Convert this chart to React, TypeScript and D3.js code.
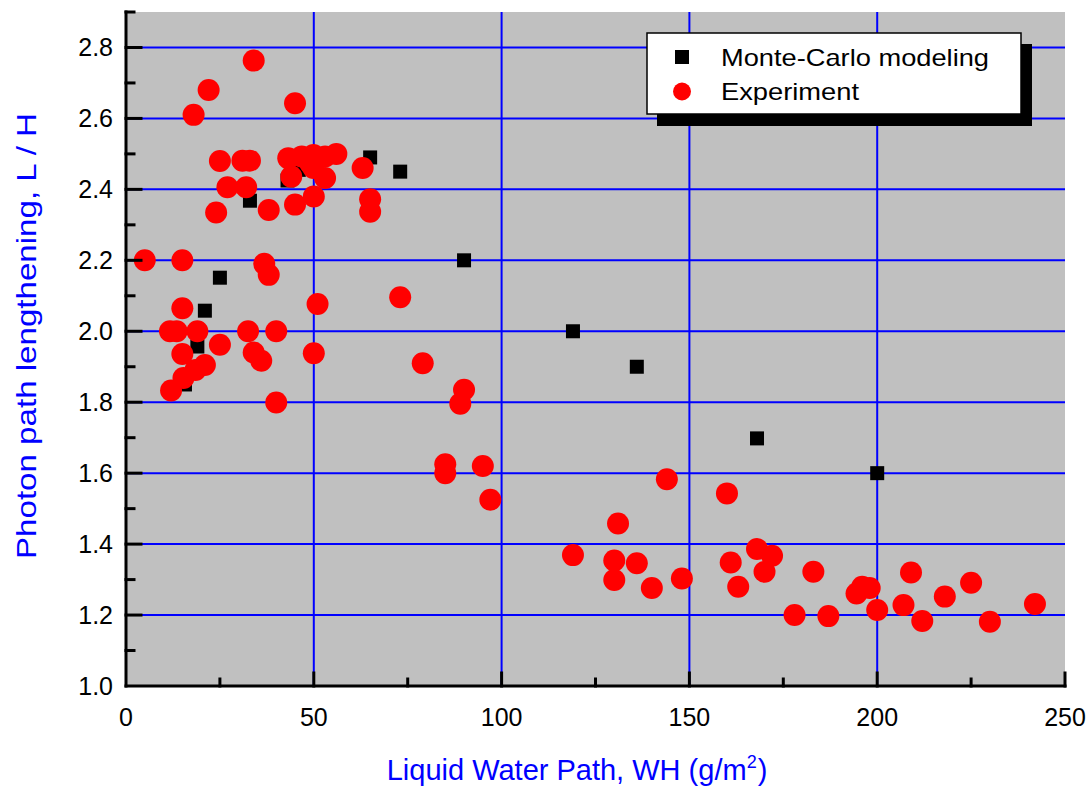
import { useEffect, useRef } from "react";
import * as d3 from "d3";

// Monte-Carlo modeling (black squares)
const mcX = [15.7, 19, 21, 25, 33, 43, 46, 65, 73, 90, 119, 136, 168, 200];
const mcY = [1.85, 1.957, 2.058, 2.151, 2.368, 2.425, 2.455, 2.49, 2.45, 2.2, 2.0, 1.9, 1.698, 1.6];

// Experiment (red circles)
const expX = [
  5, 15, 18, 22, 34, 45, 25, 31, 33, 27, 32, 24, 38, 45, 50,
  43.2, 46.8, 49.9, 53, 56, 44, 49.9, 53, 49, 63, 65, 65,
  36.8, 38, 51, 73, 15, 11.7, 13.5, 19, 25, 32.5, 40, 34, 36, 15, 50, 79,
  21, 18.5, 15.3, 12, 40, 90, 89, 85, 85, 95, 97,
  144, 160, 131, 119, 130, 130, 136, 140, 148,
  168, 172, 161, 170, 163, 183, 178, 187, 194.5, 196, 198, 200,
  207, 209, 212, 218, 225, 230, 242,
];
const expY = [
  2.2, 2.2, 2.61, 2.68, 2.763, 2.643, 2.48, 2.481, 2.481, 2.406, 2.406, 2.335, 2.342, 2.357, 2.38,
  2.488, 2.493, 2.497, 2.493, 2.5, 2.436, 2.46, 2.432, 2.474, 2.46, 2.372, 2.337,
  2.19, 2.159, 2.077, 2.096, 2.065, 2.0, 2.0, 2.0, 1.962, 2.0, 2.0, 1.94, 1.917, 1.936, 1.938, 1.91,
  1.905, 1.891, 1.868, 1.833, 1.799, 1.835, 1.796, 1.625, 1.6, 1.62, 1.525,
  1.583, 1.543, 1.458, 1.369, 1.354, 1.299, 1.346, 1.276, 1.303,
  1.386, 1.367, 1.348, 1.322, 1.28, 1.322, 1.2, 1.197, 1.261, 1.28, 1.276, 1.214,
  1.228, 1.32, 1.183, 1.252, 1.291, 1.181, 1.231,
];

const xMajor = [0, 50, 100, 150, 200, 250];
const yMajor = [1.0, 1.2, 1.4, 1.6, 1.8, 2.0, 2.2, 2.4, 2.6, 2.8];
const legendLabels = ["Monte-Carlo modeling", "Experiment"];

const FONT = "'Liberation Sans', Arial, sans-serif";

export default function App() {
  const ref = useRef<SVGSVGElement>(null);

  useEffect(() => {
    if (!ref.current) return;
    const svg = d3.select(ref.current);
    svg.selectAll("*").remove();

    const left = 126, right = 1065, top = 12, bottom = 686;
    const x = d3.scaleLinear().domain([0, 250]).range([left, right]);
    const y = d3.scaleLinear().domain([1.0, 2.9]).range([bottom, top]);

    svg.append("rect").attr("width", 1091).attr("height", 788).attr("fill", "#fff");

    // plot background
    svg.append("rect")
      .attr("x", left).attr("y", top)
      .attr("width", right - left).attr("height", bottom - top)
      .attr("fill", "#c0c0c0");

    // grid
    const grid = svg.append("g").attr("stroke", "#0000ff").attr("stroke-width", 2);
    grid.selectAll("line.gx")
      .data(xMajor.filter((d) => d > 0 && d < 250))
      .enter().append("line")
      .attr("x1", (d) => x(d)).attr("x2", (d) => x(d))
      .attr("y1", top).attr("y2", bottom);
    grid.selectAll("line.gy")
      .data(yMajor.filter((d) => d > 1.0))
      .enter().append("line")
      .attr("x1", left).attr("x2", right)
      .attr("y1", (d) => y(d)).attr("y2", (d) => y(d));

    // Monte-Carlo squares
    const sq = 14;
    svg.append("g").selectAll("rect")
      .data(d3.range(mcX.length))
      .enter().append("rect")
      .attr("x", (i) => x(mcX[i]) - sq / 2)
      .attr("y", (i) => y(mcY[i]) - sq / 2)
      .attr("width", sq).attr("height", sq)
      .attr("fill", "#000");

    // Experiment circles
    svg.append("g").selectAll("circle")
      .data(d3.range(expX.length))
      .enter().append("circle")
      .attr("cx", (i) => x(expX[i]))
      .attr("cy", (i) => y(expY[i]))
      .attr("r", 11)
      .attr("fill", "#ff0000");

    // axes
    const ax = svg.append("g").attr("stroke", "#000").attr("stroke-linecap", "square");
    ax.append("line").attr("x1", left).attr("x2", right).attr("y1", bottom).attr("y2", bottom).attr("stroke-width", 3);
    ax.append("line").attr("x1", left).attr("x2", left).attr("y1", top).attr("y2", bottom).attr("stroke-width", 3);

    const xMinor = d3.range(25, 250, 50);
    ax.selectAll("line.xt")
      .data(xMajor.slice(1))
      .enter().append("line")
      .attr("stroke-width", 3)
      .attr("x1", (d) => x(d)).attr("x2", (d) => x(d))
      .attr("y1", bottom).attr("y2", bottom - 13);
    ax.selectAll("line.xm")
      .data(xMinor)
      .enter().append("line")
      .attr("stroke-width", 3)
      .attr("x1", (d) => x(d)).attr("x2", (d) => x(d))
      .attr("y1", bottom).attr("y2", bottom - 7);

    const yMinor = d3.range(1.1, 2.95, 0.2);
    ax.selectAll("line.yt")
      .data(yMajor.slice(1))
      .enter().append("line")
      .attr("stroke-width", 3)
      .attr("x1", left).attr("x2", left + 15)
      .attr("y1", (d) => y(d)).attr("y2", (d) => y(d));
    ax.selectAll("line.ym")
      .data(yMinor)
      .enter().append("line")
      .attr("stroke-width", 3)
      .attr("x1", left).attr("x2", left + 8)
      .attr("y1", (d) => y(d)).attr("y2", (d) => y(d));

    // tick labels
    svg.append("g").selectAll("text")
      .data(xMajor)
      .enter().append("text")
      .attr("x", (d) => x(d)).attr("y", 726)
      .attr("text-anchor", "middle")
      .style("font-family", FONT).style("font-size", "25px")
      .attr("fill", "#000")
      .text((d) => d);
    svg.append("g").selectAll("text")
      .data(yMajor)
      .enter().append("text")
      .attr("x", 113).attr("y", (d) => y(d))
      .attr("dy", "0.36em")
      .attr("text-anchor", "end")
      .style("font-family", FONT).style("font-size", "25px")
      .attr("fill", "#000")
      .text((d) => d.toFixed(1));

    // axis titles
    const xt = svg.append("text")
      .attr("x", 577).attr("y", 780)
      .attr("text-anchor", "middle")
      .style("font-family", FONT).style("font-size", "29px")
      .attr("fill", "#0000ff");
    xt.append("tspan").text("Liquid Water Path, WH (g/m");
    xt.append("tspan").attr("dy", -12).style("font-size", "18px").text("2");
    xt.append("tspan").attr("dy", 12).attr("dx", 1).text(")");

    svg.append("text")
      .attr("transform", "translate(36,336) rotate(-90)")
      .attr("text-anchor", "middle")
      .attr("textLength", 446).attr("lengthAdjust", "spacingAndGlyphs")
      .style("font-family", FONT).style("font-size", "28px")
      .attr("fill", "#0000ff")
      .text("Photon path lengthening, L / H");

    // legend
    const lg = svg.append("g");
    lg.append("rect").attr("x", 657).attr("y", 44).attr("width", 375).attr("height", 82).attr("fill", "#000");
    lg.append("rect").attr("x", 647).attr("y", 33).attr("width", 374).attr("height", 81)
      .attr("fill", "#fff").attr("stroke", "#000").attr("stroke-width", 1.5);
    lg.append("rect").attr("x", 675).attr("y", 50).attr("width", sq).attr("height", sq).attr("fill", "#000");
    lg.append("circle").attr("cx", 682).attr("cy", 91.5).attr("r", 9).attr("fill", "#ff0000");
    lg.selectAll("text.lg")
      .data(legendLabels)
      .enter().append("text")
      .attr("x", 721).attr("y", (_, i) => 66 + i * 34)
      .attr("textLength", (_, i) => (i === 0 ? 268 : 138))
      .attr("lengthAdjust", "spacingAndGlyphs")
      .style("font-family", FONT).style("font-size", "24px")
      .attr("fill", "#000")
      .text((d) => d);
  }, []);

  return (
    <div style={{ position: "absolute", left: 0, top: 0 }}>
      <svg ref={ref} width={1091} height={788} />
    </div>
  );
}
